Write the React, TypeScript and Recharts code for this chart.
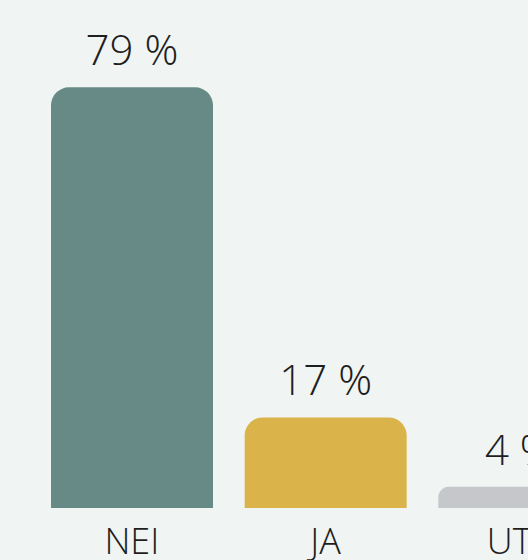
import { BarChart, Bar, XAxis, YAxis, Cell, LabelList } from 'recharts';

const categories = ['NEI', 'JA', 'UTE'];
const percentages = [79, 17, 4];
const COLORS = ['#678a87', '#dab44b', '#c6c7cb'];

const data = categories.map((name, i) => ({ name, value: percentages[i] }));

const FONT = '"Open Sans Light", "Open Sans", sans-serif';

export default function App() {
  return (
    <div
      style={{
        position: 'fixed',
        top: 0,
        left: 0,
        width: 528,
        height: 560,
        overflow: 'hidden',
        background: '#f0f4f3',
        fontFamily: FONT,
      }}
    >
      <BarChart
        width={616}
        height={560}
        data={data}
        margin={{ top: 82, right: 0, bottom: 0, left: 35 }}
      >
        <YAxis hide domain={[0, 80]} />
        <XAxis
          dataKey="name"
          height={52}
          axisLine={false}
          tickLine={false}
          tickSize={0}
          tickMargin={20}
          interval={0}
          tick={{ fill: '#1e1e1e', fontSize: 36, fontWeight: 300, fontFamily: FONT }}
        />
        <Bar dataKey="value" barSize={162} radius={[18, 18, 0, 0]} isAnimationActive={false}>
          {data.map((_, index) => (
            <Cell key={`cell-${index}`} fill={COLORS[index % COLORS.length]} />
          ))}
          <LabelList
            dataKey="value"
            position="top"
            offset={22}
            formatter={(v: any) => `${v} %`}
            style={{ fill: '#1e1e1e', fontSize: 42, fontWeight: 300, fontFamily: FONT }}
          />
        </Bar>
      </BarChart>
    </div>
  );
}
